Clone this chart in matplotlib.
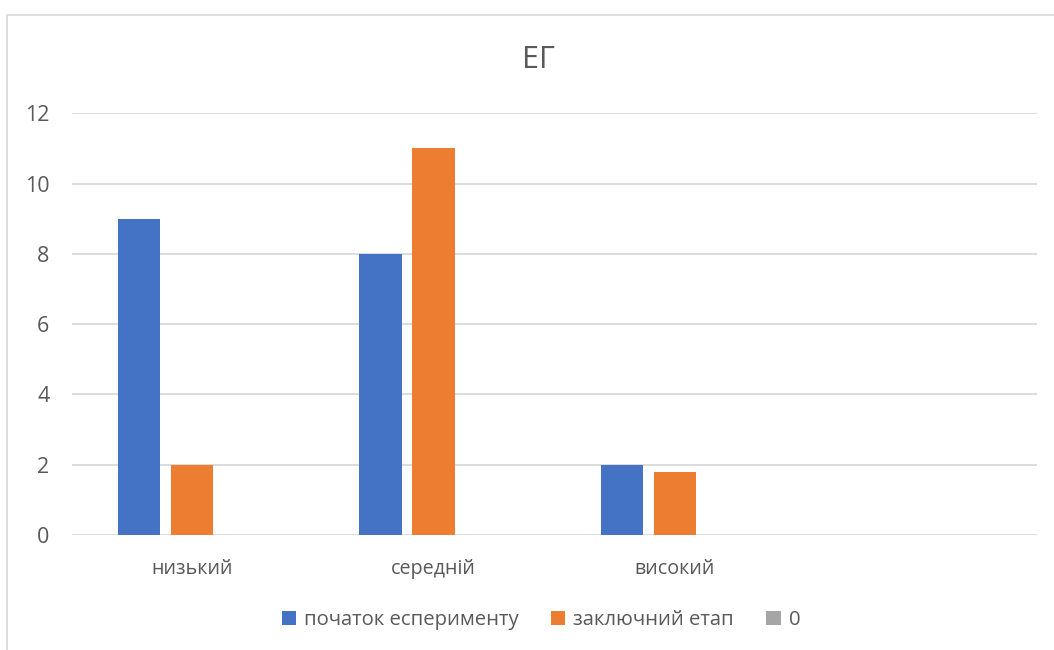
import numpy as np
import matplotlib
matplotlib.use('Agg')
import matplotlib.pyplot as plt
from matplotlib.patches import Rectangle

plt.rcParams['font.family'] = ['Open Sans', 'DejaVu Sans']

categories = ['низький', 'середній', 'високий', '']
start_vals = [9, 8, 2, 0]
final_vals = [2, 11, 1.8, 0]
zero_vals = [0, 0, 0, 0]
series_names = ['початок есперименту', 'заключний етап', '0']
series_colors = ['#4472C4', '#ED7D31', '#A5A5A5']
y_ticks = [0, 2, 4, 6, 8, 10, 12]

text_color = '#595959'
grid_color = '#D9D9D9'

W, H = 1054, 650
fig = plt.figure(figsize=(W / 100, H / 100), dpi=100)

# chart frame, runs off the right and bottom edges
fig.patches.append(Rectangle((7 / W, -0.1), 1.2, 1 - 15 / H + 0.1,
                             transform=fig.transFigure, fill=False,
                             edgecolor=grid_color, linewidth=1.2))

ax = fig.add_axes([71.6 / W, (H - 535) / H, (1037 - 71.6) / W, (535 - 113.3) / H])

x = np.arange(len(categories))
bar_w = 0.1757
step = 0.2196
bars = []
for i, (vals, name, col) in enumerate(zip([start_vals, final_vals, zero_vals],
                                          series_names, series_colors)):
    bars.append(ax.bar(x + (i - 1) * step, vals, width=bar_w, color=col,
                       label=name, linewidth=0, zorder=3))

ax.set_xlim(-0.5, len(categories) - 0.5)
ax.set_ylim(0, 12)
ax.set_yticks(y_ticks)
ax.set_xticks(x)
ax.set_xticklabels(categories)
ax.yaxis.grid(True, color=grid_color, linewidth=1.3, zorder=0)
ax.set_axisbelow(True)
for s in ax.spines.values():
    s.set_visible(False)
ax.tick_params(axis='both', length=0, labelcolor=text_color)
ax.tick_params(axis='y', pad=16, labelsize=15.5)
ax.tick_params(axis='x', pad=17, labelsize=14.2)

fig.text(538 / W, 1 - 59.5 / H, 'ЕГ', ha='center', va='center',
         fontsize=22, color=text_color)

fig.legend(handles=bars, labels=series_names, loc='center',
           bbox_to_anchor=(541 / W, 1 - 620 / H), ncol=3, frameon=False,
           fontsize=14.6, labelcolor=text_color, handlelength=0.7,
           handleheight=0.7, handletextpad=0.4, columnspacing=1.6)

fig.savefig('out.png', dpi=100, facecolor='white')
